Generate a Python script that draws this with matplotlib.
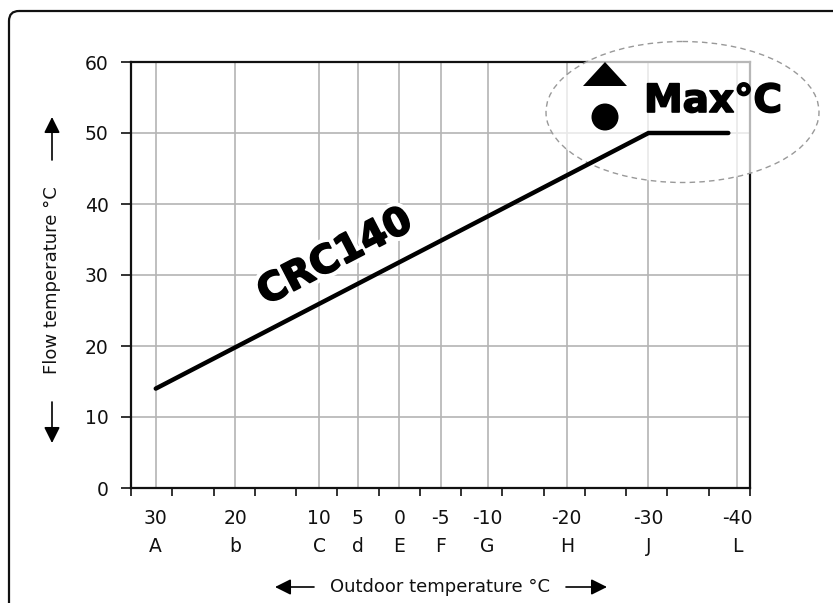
import numpy as np
import matplotlib
matplotlib.use('Agg')
import matplotlib.pyplot as plt
from matplotlib.patches import Ellipse, Polygon, Circle, FancyBboxPatch
from matplotlib.transforms import Affine2D, blended_transform_factory
from matplotlib.text import Annotation
import matplotlib.patheffects as pe

W, H = 833, 603

# outdoor temperature labels and where their grid lines sit on the (non-linear) axis
outdoor_temps = [30, 20, 10, 5, 0, -5, -10, -20, -30, -40]
outdoor_letters = ['A', 'b', 'C', 'd', 'E', 'F', 'G', 'H', 'J', 'L']
outdoor_pos = [0.6, 2.53, 4.56, 5.5, 6.5, 7.5, 8.64, 10.56, 12.54, 14.69]

# heating curve CRC140
curve_outdoor = [30, -30, -39]
curve_flow = [14, 50, 50]

flow_ticks = [0, 10, 20, 30, 40, 50, 60]

fig = plt.figure(figsize=(W / 100, H / 100), dpi=100)
fig.patch.set_facecolor('white')
# image-pixel coordinates (origin top-left)
pix = Affine2D().scale(1 / W, -1 / H).translate(0, 1) + fig.transFigure

ax = fig.add_axes([131 / W, 1 - 488 / H, 619 / W, 426 / H])
ax.set_xlim(0, 15)
ax.set_ylim(0, 60)

# evenly spaced tick marks along the bottom, grid at the temperature positions
ax.set_xticks(range(16))
ax.set_xticklabels([])
ax.set_xticks(outdoor_pos, minor=True)
ax.tick_params(axis='x', which='major', direction='out', length=6, width=1.3, color='#222222')
ax.tick_params(axis='x', which='minor', length=0)
ax.set_yticks(flow_ticks)
ax.tick_params(axis='y', direction='out', length=7, width=1.3, pad=9, labelsize=13.5,
               color='#222222', labelcolor='#111111')
ax.grid(which='minor', axis='x', color='#b4b4b4', linewidth=1.2)
ax.grid(which='major', axis='y', color='#b4b4b4', linewidth=1.2)
ax.set_axisbelow(True)
for sp in ax.spines.values():
    sp.set_linewidth(1.6)
    sp.set_color('#111111')

# two-row x labels (temperature / letter)
tx = blended_transform_factory(ax.transData, pix)
for p, t, l in zip(outdoor_pos, outdoor_temps, outdoor_letters):
    ax.text(p, 519, str(t), transform=tx, ha='center', va='center', fontsize=13.5,
            color='#111111', clip_on=False)
    ax.text(p, 547, l, transform=tx, ha='center', va='center', fontsize=13.5,
            color='#111111', clip_on=False)

# heating curve
line_x = np.interp(curve_outdoor, outdoor_temps[::-1], outdoor_pos[::-1])
ax.plot(line_x, curve_flow, color='black', linewidth=3.2, solid_capstyle='round',
        solid_joinstyle='miter', zorder=4, clip_on=False)

ax.text(335, 257, 'CRC140', transform=pix, rotation=27.4, rotation_mode='anchor',
        ha='center', va='center', fontsize=28, fontweight='bold', color='black', zorder=5,
        path_effects=[pe.withStroke(linewidth=7, foreground='white'),
                      pe.withStroke(linewidth=1.3, foreground='black')])

# Max°C highlight
ell = Ellipse((682.5, 112), 273, 141, transform=pix, facecolor=(1, 1, 1, 0.7),
              edgecolor='#999999', linestyle=(0, (4, 3)), linewidth=1.0, zorder=3, clip_on=False)
ax.add_patch(ell)
ax.add_patch(Polygon([(583, 86), (627, 86), (605, 62)], closed=True, transform=pix,
                     facecolor='black', edgecolor='none', zorder=5, clip_on=False))
ax.add_patch(Circle((605, 117), 13.5, transform=pix, facecolor='black', edgecolor='none',
                    zorder=5, clip_on=False))
ax.text(644, 112, 'Max°C', transform=pix, ha='left', va='baseline', fontsize=28,
        fontweight='bold', color='black', zorder=5,
        path_effects=[pe.withStroke(linewidth=1.2, foreground='black')])

# axis titles with arrows
fig.text(52, 280, 'Flow temperature °C', transform=pix, rotation=90, ha='center', va='center',
         fontsize=13, color='#111111')
arrow_kw = dict(arrowstyle='-|>', color='black', lw=1.2, mutation_scale=24, shrinkA=0, shrinkB=0)
for tip, tail in [((52, 117), (52, 160)), ((52, 443), (52, 402)),
                  ((275, 587), (314, 587)), ((607, 587), (566, 587))]:
    fig.add_artist(Annotation('', xy=tip, xytext=tail, xycoords=pix, textcoords=pix,
                              arrowprops=arrow_kw))

fig.text(440, 587, 'Outdoor temperature °C', transform=pix, ha='center', va='center',
         fontsize=13, color='#111111')

# outer rounded frame (only top-left corner visible)
frame = FancyBboxPatch((9, 11), 900, 700, boxstyle='round,pad=0,rounding_size=10',
                       transform=pix, facecolor='none', edgecolor='#111111', linewidth=1.6)
fig.add_artist(frame)

plt.savefig('out.png', dpi=100, facecolor='white')
